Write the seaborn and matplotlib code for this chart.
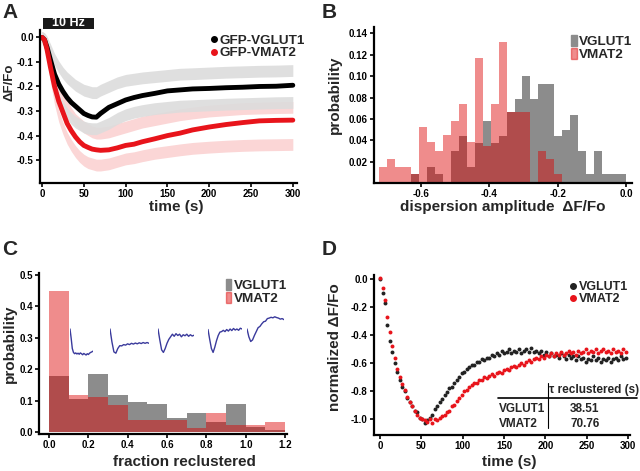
import numpy as np
import pandas as pd
import seaborn as sns
import matplotlib.pyplot as plt
from matplotlib.lines import Line2D
from matplotlib.patches import Patch, Rectangle

# ==========================================
# DATA
# ==========================================
# A: mean dF/Fo traces at 10 Hz, plus the light envelope bands
t_a = [0, 3, 6, 10, 15, 20, 25, 30, 35, 40, 45, 50, 55, 60, 65, 70, 80, 90, 100,
       110, 120, 135, 150, 165, 180, 200, 220, 240, 260, 280, 300]
vglut1_mean = [0.0, -0.01, -0.04, -0.09, -0.15, -0.19, -0.22, -0.245, -0.265, -0.28, -0.295,
               -0.31, -0.318, -0.324, -0.325, -0.31, -0.285, -0.27, -0.255, -0.245, -0.237,
               -0.228, -0.218, -0.214, -0.21, -0.208, -0.205, -0.203, -0.20, -0.199, -0.195]
vmat2_mean = [0.0, -0.01, -0.05, -0.12, -0.20, -0.26, -0.305, -0.35, -0.38, -0.405, -0.425,
              -0.44, -0.448, -0.455, -0.458, -0.46, -0.458, -0.45, -0.44, -0.435, -0.425,
              -0.413, -0.40, -0.39, -0.377, -0.365, -0.355, -0.347, -0.34, -0.338, -0.337]
vglut1_hi = [0.0, -0.005, -0.02, -0.05, -0.09, -0.12, -0.145, -0.165, -0.18, -0.195, -0.205,
             -0.215, -0.22, -0.225, -0.225, -0.215, -0.20, -0.185, -0.175, -0.17, -0.165,
             -0.16, -0.155, -0.15, -0.148, -0.145, -0.142, -0.14, -0.138, -0.137, -0.135]
vglut1_lo = [0.0, -0.015, -0.06, -0.13, -0.20, -0.25, -0.285, -0.31, -0.33, -0.345, -0.355,
             -0.365, -0.37, -0.372, -0.372, -0.365, -0.35, -0.33, -0.315, -0.305, -0.298,
             -0.29, -0.285, -0.28, -0.278, -0.275, -0.272, -0.27, -0.268, -0.266, -0.265]
vmat2_hi = [0.0, -0.008, -0.035, -0.085, -0.15, -0.20, -0.24, -0.28, -0.31, -0.335, -0.35,
            -0.365, -0.375, -0.385, -0.39, -0.39, -0.385, -0.375, -0.365, -0.355, -0.345,
            -0.335, -0.325, -0.315, -0.308, -0.30, -0.295, -0.29, -0.288, -0.286, -0.285]
vmat2_lo = [0.0, -0.012, -0.065, -0.155, -0.25, -0.32, -0.37, -0.41, -0.44, -0.465, -0.485,
            -0.50, -0.51, -0.515, -0.52, -0.52, -0.515, -0.505, -0.495, -0.49, -0.482,
            -0.472, -0.465, -0.458, -0.452, -0.447, -0.443, -0.44, -0.438, -0.437, -0.436]

# B: dispersion amplitude histograms (probability per bin)
edges_b = np.linspace(-0.723, 0.0, 32).tolist()
vglut1_b = [0, 0, 0, 0, 0.008, 0, 0.015, 0.008, 0, 0.030, 0.044, 0.015, 0.037, 0.058, 0.037,
            0.044, 0.066, 0.079, 0.100, 0.079, 0.093, 0.093, 0.044, 0.050, 0.064, 0.030,
            0.008, 0.030, 0.008, 0.008, 0.008]
vmat2_b = [0.015, 0.022, 0.015, 0.015, 0.008, 0.052, 0.038, 0.030, 0.045, 0.058, 0.074, 0.038,
           0.117, 0.035, 0.074, 0.132, 0.066, 0.066, 0.066, 0, 0.030, 0.022, 0.008, 0, 0, 0,
           0, 0, 0, 0, 0]

# C: fraction reclustered histograms
edges_c = [0.0, 0.1, 0.2, 0.3, 0.4, 0.5, 0.6, 0.7, 0.8, 0.9, 1.0, 1.1, 1.2]
vglut1_c = [0.177, 0.106, 0.183, 0.119, 0.095, 0.090, 0.045, 0.060, 0.032, 0.090, 0.016, 0.008]
vmat2_c = [0.448, 0.119, 0.111, 0.085, 0.039, 0.039, 0.037, 0.012, 0.060, 0.024, 0.024, 0.032]

# C: example traces (normalised)
trace_x = [0, 0.05, 0.1, 0.15, 0.2, 0.25, 0.3, 0.35, 0.4, 0.45, 0.5, 0.55, 0.6, 0.65, 0.7,
           0.75, 0.8, 0.85, 0.9, 0.95, 1.0]
trace_1 = [0.0, -0.35, -0.75, -0.9, -0.95, -0.92, -0.96, -0.93, -0.97, -0.92, -0.95, -0.99,
           -0.94, -0.97, -1.0, -0.95, -0.98, -0.93, -0.9, -0.88, -0.85]
trace_2 = [0.0, -0.5, -0.88, -0.93, -0.75, -0.64, -0.65, -0.6, -0.62, -0.57, -0.6, -0.55,
           -0.58, -0.54, -0.57, -0.53, -0.56, -0.52, -0.55, -0.52, -0.55]
trace_3 = [0.0, -0.42, -0.8, -0.9, -0.75, -0.55, -0.4, -0.3, -0.2, -0.28, -0.18, -0.25, -0.2,
           -0.3, -0.22, -0.26, -0.2, -0.28, -0.22, -0.27, -0.24]
trace_4 = [-0.02, -0.4, -0.75, -0.9, -0.7, -0.45, -0.25, -0.12, -0.1, -0.05, -0.1, -0.02,
           -0.08, 0.0, -0.06, 0.02, -0.04, 0.0, -0.05, 0.03, 0.0]
trace_5 = [0.0, -0.3, -0.48, -0.42, -0.25, -0.1, 0.05, 0.1, 0.2, 0.28, 0.3, 0.4, 0.42, 0.45,
           0.43, 0.47, 0.44, 0.42, 0.38, 0.4, 0.36]
traces = [trace_1, trace_2, trace_3, trace_4, trace_5]
trace_px = [(70, 93), (110, 149), (158, 194), (208, 242), (247, 284)]

# D: normalised dF/Fo, one sample every 3 s
t_d = np.arange(0, 300, 3)
vglut1_d = [0.00, -0.10, -0.17, -0.33, -0.44, -0.52, -0.60, -0.66, -0.72, -0.77,
            -0.80, -0.85, -0.88, -0.91, -0.94, -0.95, -0.99, -1.00, -1.03, -1.01,
            -0.99, -0.97, -0.93, -0.91, -0.88, -0.86, -0.83, -0.81, -0.78, -0.77,
            -0.74, -0.72, -0.70, -0.67, -0.66, -0.64, -0.63, -0.61, -0.61, -0.59,
            -0.59, -0.57, -0.58, -0.56, -0.56, -0.54, -0.55, -0.53, -0.54, -0.51,
            -0.53, -0.52, -0.50, -0.53, -0.51, -0.52, -0.50, -0.53, -0.51, -0.50,
            -0.52, -0.49, -0.52, -0.51, -0.53, -0.51, -0.54, -0.52, -0.55, -0.53,
            -0.55, -0.54, -0.56, -0.53, -0.55, -0.57, -0.54, -0.56, -0.55, -0.58,
            -0.55, -0.57, -0.56, -0.59, -0.57, -0.58, -0.55, -0.58, -0.56, -0.59,
            -0.57, -0.58, -0.56, -0.59, -0.57, -0.56, -0.58, -0.55, -0.57, -0.56]
vmat2_d = [0.01, -0.06, -0.15, -0.27, -0.38, -0.48, -0.56, -0.64, -0.70, -0.75,
           -0.79, -0.84, -0.88, -0.91, -0.94, -0.97, -0.99, -1.00, -1.01, -1.02,
           -1.00, -1.03, -1.00, -1.01, -0.99, -0.98, -0.97, -0.95, -0.94, -0.91,
           -0.90, -0.87, -0.85, -0.83, -0.80, -0.79, -0.77, -0.76, -0.74, -0.74,
           -0.72, -0.72, -0.70, -0.71, -0.69, -0.68, -0.69, -0.67, -0.66, -0.67,
           -0.65, -0.64, -0.65, -0.63, -0.62, -0.63, -0.61, -0.60, -0.61, -0.59,
           -0.58, -0.59, -0.57, -0.56, -0.57, -0.55, -0.56, -0.54, -0.55, -0.53,
           -0.55, -0.53, -0.54, -0.52, -0.54, -0.53, -0.51, -0.53, -0.52, -0.54,
           -0.51, -0.53, -0.52, -0.50, -0.53, -0.51, -0.52, -0.50, -0.53, -0.51,
           -0.50, -0.52, -0.51, -0.53, -0.50, -0.52, -0.51, -0.53, -0.50, -0.52]
tau_rows = ['VGLUT1', 'VMAT2']
tau_vals = ['38.51', '70.76']

# ==========================================
# STYLE
# ==========================================
sns.set_style("ticks")
plt.rcParams['font.family'] = ['Liberation Sans', 'DejaVu Sans']
plt.rcParams['font.weight'] = 'bold'
plt.rcParams['axes.labelweight'] = 'bold'
plt.rcParams['axes.unicode_minus'] = False

GRAY = '#8c8c8c'
PINK = '#dc0000'
PINK_A = 0.45
RED = '#e8141b'
W, H = 640, 471


def fig_rect(x0, y0, x1, y1):
    # pixel box (top-left origin) -> figure fraction rect
    return [x0 / W, 1 - y1 / H, (x1 - x0) / W, (y1 - y0) / H]


def style(ax):
    sns.despine(ax=ax)
    for s in ('left', 'bottom'):
        ax.spines[s].set_linewidth(1.6)
        ax.spines[s].set_color('black')
    ax.tick_params(direction='out', length=3, width=1.2, labelsize=7, pad=1.5, colors='black')
    for lab in ax.get_xticklabels() + ax.get_yticklabels():
        lab.set_fontweight('bold')


def hist_pair(ax, edges, gray_vals, pink_vals):
    cent = [(a + b) / 2 for a, b in zip(edges[:-1], edges[1:])]
    df = pd.DataFrame({'x': cent, 'g': gray_vals, 'p': pink_vals})
    sns.histplot(data=df, x='x', weights='g', bins=list(edges), color=GRAY, alpha=1, lw=0, ax=ax)
    sns.histplot(data=df, x='x', weights='p', bins=list(edges), color=PINK, alpha=PINK_A, lw=0, ax=ax)


fig = plt.figure(figsize=(6.4, 4.71), dpi=100)

# ---------------- A ----------------
axA = fig.add_axes(fig_rect(40, 30, 297, 183))
for c in (vmat2_hi, vmat2_lo):
    axA.fill_between(t_a, np.array(c) - 0.024, np.array(c) + 0.024, color='#fbd6d6', lw=0)
for c in (vglut1_hi, vglut1_lo):
    axA.fill_between(t_a, np.array(c) - 0.024, np.array(c) + 0.024, color='#dcdcdc', lw=0, alpha=0.9)
sns.lineplot(x=t_a, y=vglut1_mean, color='black', lw=3.5, ax=axA)
sns.lineplot(x=t_a, y=vmat2_mean, color=RED, lw=3.5, ax=axA)
axA.set_xlim(-2.4, 305)
axA.set_ylim(-0.593, 0.03)
axA.set_xticks([0, 50, 100, 150, 200, 250, 300])
axA.set_yticks([0.0, -0.1, -0.2, -0.3, -0.4, -0.5])
axA.set_yticklabels(['0.0', '-0.1', '-0.2', '-0.3', '-0.4', '-0.5'])
axA.set_xlabel('time (s)', fontsize=11)
axA.set_ylabel('ΔF/Fo', fontsize=9.5)
axA.xaxis.set_label_coords(0.53, -0.11)
axA.yaxis.set_label_coords(-0.097, 0.66)
axA.xaxis.label.set_va('top')
style(axA)
axA.legend(handles=[Line2D([], [], marker='o', ls='', color='black', markersize=4),
                    Line2D([], [], marker='o', ls='', color=RED, markersize=4)],
           labels=['GFP-VGLUT1', 'GFP-VMAT2'], loc='upper left', bbox_to_anchor=(0.66, 0.97),
           frameon=False, handlelength=0.6, handletextpad=0.15, borderpad=0, borderaxespad=0,
           labelspacing=0.0, prop={'size': 9.7, 'weight': 'bold'})
fig.patches.append(Rectangle((43 / W, 1 - 29 / H), 51 / W, 11 / H, transform=fig.transFigure,
                             facecolor='#1a1a1a', edgecolor='none'))
fig.text(68.5 / W, 1 - 23.5 / H, '10 Hz', color='white', fontsize=9, fontweight='bold',
         ha='center', va='center')

# ---------------- B ----------------
axB = fig.add_axes(fig_rect(374, 27, 632, 183))
hist_pair(axB, edges_b, vglut1_b, vmat2_b)
axB.set_xlim(-0.738, 0.0176)
axB.set_ylim(0, 0.146)
axB.set_xticks([-0.6, -0.4, -0.2, 0.0])
axB.set_xticklabels(['-0.6', '-0.4', '-0.2', '0.0'])
axB.set_yticks([0.02, 0.04, 0.06, 0.08, 0.10, 0.12, 0.14])
axB.set_yticklabels(['0.02', '0.04', '0.06', '0.08', '0.10', '0.12', '0.14'])
axB.set_xlabel('dispersion amplitude  ΔF/Fo', fontsize=11)
axB.set_ylabel('probability', fontsize=11)
axB.xaxis.set_label_coords(0.5, -0.109)
axB.yaxis.set_label_coords(-0.124, 0.564)
axB.xaxis.label.set_va('top')
style(axB)
axB.legend(handles=[Patch(color=GRAY), Patch(color=PINK, alpha=PINK_A)],
           labels=['VGLUT1', 'VMAT2'], loc='upper left', bbox_to_anchor=(0.764, 0.95),
           frameon=False, handlelength=0.4, handleheight=0.9, handletextpad=0.2, borderpad=0,
           borderaxespad=0, labelspacing=0.0, prop={'size': 9.7, 'weight': 'bold'})

# ---------------- C ----------------
axC = fig.add_axes(fig_rect(39, 273, 287, 434))
hist_pair(axC, edges_c, vglut1_c, vmat2_c)
axC.set_xlim(-0.051, 1.21)
axC.set_ylim(-0.006, 0.505)
axC.set_xticks([0.0, 0.2, 0.4, 0.6, 0.8, 1.0, 1.2])
axC.set_xticklabels(['0.0', '0.2', '0.4', '0.6', '0.8', '1.0', '1.2'])
axC.set_yticks([0.0, 0.1, 0.2, 0.3, 0.4, 0.5])
axC.set_yticklabels(['0.0', '0.1', '0.2', '0.3', '0.4', '0.5'])
axC.set_xlabel('fraction reclustered', fontsize=11)
axC.set_ylabel('probability', fontsize=11)
axC.xaxis.set_label_coords(0.585, -0.13)
axC.yaxis.set_label_coords(-0.089, 0.56)
axC.xaxis.label.set_va('top')
style(axC)
axC.legend(handles=[Patch(color=GRAY), Patch(color=PINK, alpha=PINK_A)],
           labels=['VGLUT1', 'VMAT2'], loc='upper left', bbox_to_anchor=(0.754, 0.963),
           frameon=False, handlelength=0.4, handleheight=0.9, handletextpad=0.2, borderpad=0,
           borderaxespad=0, labelspacing=0.0, prop={'size': 9.7, 'weight': 'bold'})
for tr, (x0, x1) in zip(traces, trace_px):
    axT = fig.add_axes(fig_rect(x0, 314, x1, 358))
    sns.lineplot(x=trace_x, y=tr, color='#3a3a9c', lw=1.0, ax=axT)
    axT.set_xlim(0, 1)
    axT.set_ylim(-1.115, 0.577)
    axT.axis('off')
    axT.patch.set_alpha(0)

# ---------------- D ----------------
axD = fig.add_axes(fig_rect(374, 275, 630, 435))
sns.scatterplot(x=t_d, y=vglut1_d, color='#222222', s=8, linewidth=0, ax=axD)
sns.scatterplot(x=t_d, y=vmat2_d, color=RED, s=8, linewidth=0, ax=axD)
axD.set_xlim(-7.3, 302.4)
axD.set_ylim(-1.114, 0.03)
axD.set_xticks([0, 50, 100, 150, 200, 250, 300])
axD.set_yticks([0.0, -0.2, -0.4, -0.6, -0.8, -1.0])
axD.set_yticklabels(['0.0', '-0.2', '-0.4', '-0.6', '-0.8', '-1.0'])
axD.set_xlabel('time (s)', fontsize=11)
axD.set_ylabel('normalized ΔF/Fo', fontsize=11)
axD.xaxis.set_label_coords(0.53, -0.125)
axD.yaxis.set_label_coords(-0.125, 0.55)
axD.xaxis.label.set_va('top')
style(axD)
axD.legend(handles=[Line2D([], [], marker='o', ls='', color='#222222', markersize=4),
                    Line2D([], [], marker='o', ls='', color=RED, markersize=4)],
           labels=['VGLUT1', 'VMAT2'], loc='upper left', bbox_to_anchor=(0.762, 0.96),
           frameon=False, handlelength=0.6, handletextpad=0.15, borderpad=0, borderaxespad=0,
           labelspacing=0.0, prop={'size': 9, 'weight': 'bold'})

# tau table
fig.text(549 / W, 1 - 390 / H, 'τ reclustered (s)', fontsize=8.5, fontweight='bold', va='center')
fig.add_artist(Line2D([498 / W, 637 / W], [1 - 398 / H, 1 - 398 / H], color='black', lw=1.2))
fig.add_artist(Line2D([548 / W, 548 / W], [1 - 383 / H, 1 - 428 / H], color='black', lw=0.8))
for row, val, y in zip(tau_rows, tau_vals, [408.5, 424]):
    fig.text(499 / W, 1 - y / H, row, fontsize=8.5, fontweight='bold', va='center')
    fig.text(585 / W, 1 - y / H, val, fontsize=8.5, fontweight='bold', va='center', ha='center')

# panel letters
for lab, x, y in [('A', 2, 3), ('B', 322, 3), ('C', 2, 240), ('D', 322, 240)]:
    fig.text(x / W, 1 - y / H, lab, fontsize=15, fontweight='bold', va='top', ha='left')

plt.savefig('out.png', dpi=100)
